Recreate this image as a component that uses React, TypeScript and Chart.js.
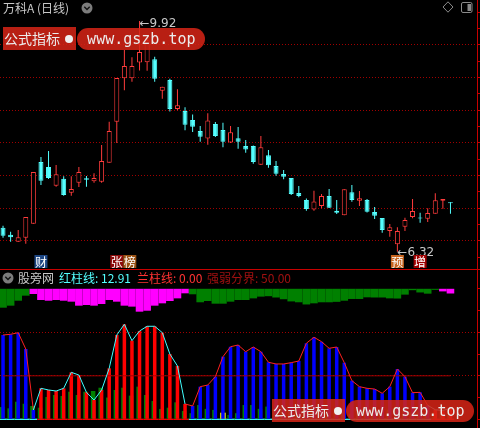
import React, { useEffect, useRef } from 'react';
import { Chart, registerables } from 'chart.js';

Chart.register(...registerables);

// ---------- price panel (daily candles, 万科A) ----------
const opens = [6.694, 6.585, 6.476, 6.538, 6.757, 7.720, 7.642, 7.350, 7.459, 7.241, 7.397, 7.465, 7.419, 7.412, 7.709, 8.349, 9.026, 9.026, 9.272, 9.276, 9.322, 8.832, 8.999, 8.547, 8.516, 8.375, 8.203, 8.086, 8.313, 8.219, 8.024, 8.090, 7.969, 7.969, 7.678, 7.824, 7.657, 7.532, 7.470, 7.236, 7.127, 6.978, 7.033, 7.189, 6.960, 6.888, 7.247, 7.116, 7.127, 6.939, 6.846, 6.643, 6.435, 6.710, 6.861, 6.854, 6.835, 6.913, 7.116, 7.090];
const highs = [6.726, 6.632, 6.659, 6.861, 7.564, 7.798, 7.891, 7.673, 7.497, 7.497, 7.642, 7.501, 7.543, 7.985, 8.349, 9.031, 9.467, 9.354, 9.920, 9.675, 9.363, 8.895, 9.020, 8.854, 8.573, 8.461, 8.281, 8.480, 8.344, 8.333, 8.281, 8.266, 8.063, 7.977, 8.125, 7.907, 7.735, 7.595, 7.470, 7.345, 7.150, 7.270, 7.220, 7.298, 7.127, 7.294, 7.361, 7.267, 7.142, 7.017, 6.846, 6.752, 6.701, 6.850, 7.142, 6.929, 6.997, 7.231, 7.142, 7.090];
const lows = [6.538, 6.476, 6.471, 6.445, 6.757, 7.361, 7.455, 7.334, 7.194, 7.194, 7.330, 7.334, 7.397, 7.397, 7.709, 8.016, 8.839, 8.973, 9.148, 9.144, 8.973, 8.707, 8.508, 8.526, 8.214, 8.188, 8.036, 7.990, 8.110, 7.949, 8.016, 7.927, 7.865, 7.693, 7.673, 7.631, 7.506, 7.450, 7.204, 7.169, 6.960, 6.960, 6.997, 7.002, 6.908, 6.888, 7.100, 7.033, 6.932, 6.830, 6.616, 6.554, 6.320, 6.643, 6.841, 6.772, 6.783, 6.913, 6.991, 6.913];
const closes = [6.570, 6.545, 6.545, 6.861, 7.564, 7.428, 7.470, 7.528, 7.205, 7.298, 7.564, 7.443, 7.470, 7.735, 8.203, 9.031, 9.218, 9.218, 9.436, 9.619, 9.020, 8.895, 8.547, 8.604, 8.302, 8.271, 8.114, 8.367, 8.125, 8.036, 8.183, 8.036, 7.915, 7.720, 7.949, 7.668, 7.537, 7.490, 7.220, 7.189, 6.986, 7.103, 7.189, 7.007, 6.929, 7.294, 7.127, 7.153, 6.944, 6.882, 6.659, 6.701, 6.643, 6.815, 6.955, 6.838, 6.924, 7.122, 7.142, 7.075];

const priceGridLines = [9.55, 9.04, 8.53, 8.02, 7.51, 7.0, 6.49];
const priceTickMarks = [10.06, 9.805, 9.55, 9.295, 9.04, 8.785, 8.53, 8.275, 8.02, 7.765, 7.51, 7.255, 7.0, 6.745, 6.49, 6.235];

const eventLabels = ['财', '张', '榜', '预', '增'];
const eventIndex = [5, 15, 15, 52, 55];
const eventColors = ['#1d4683', '#8c0a0a', '#9a5214', '#c8641e', '#a00000'];

// ---------- indicator panel (股旁网) ----------
const strength = [96.9, 97.7, 99.5, 80.8, 10.7, 35.6, 33.7, 32.5, 35.6, 54.0, 50.9, 31.0, 22.2, 33.7, 58.6, 96.9, 109.2, 90.4, 101.5, 106.9, 106.9, 99.6, 75.0, 61.3, 17.6, 15.3, 37.5, 39.4, 49.0, 72.0, 83.4, 85.4, 77.7, 83.1, 77.7, 65.5, 63.6, 63.6, 65.1, 67.0, 87.4, 94.3, 89.2, 81.6, 83.1, 65.1, 44.4, 37.5, 35.6, 34.8, 29.9, 37.5, 57.8, 49.0, 30.6, 31.0, 16.0, 11.0, 10.0, 12.91];
const strengthColor = ('BBBBB' + 'RRRRRRRRRR' + 'RRRRRRRRRR' + 'BBBBBBBBBB' + 'BBBBBBBBBB' + 'BBBBBBBBBB' + 'BB' + 'RRR').split('');
const greenSticks = [14.1, 12.6, 20.2, 17.9, 15.3, 13.3, 25.6, 27.9, 26.8, 31.7, 27.9, 31.7, 32.5, 36.3, 25, 33.7, 36.3, 27.2, 37.5, 27.9, 21, 11.9, 13.3, 19.5, 9.5, 7, 16.4, 12, 10.8, 0, 5, 7, 16.4, 16.4, 12, 14.6, 12, 15, 10, 8, 12, 14, 10, 9, 12, 8, 6, 10, 12, 9, 7, 11, 14, 10, 8, 9, 6, 8, 10, 12];
const yellowStickIndex = [29];
const yellowStickValue = [7.6];
const bandBottom = [128.3, 130.6, 136.3, 142.1, 144.0, 137.1, 136.3, 137.1, 136.3, 135.2, 130.6, 131.4, 130.6, 132.5, 137.1, 135.2, 130.6, 129.5, 123.7, 124.8, 130.6, 133.3, 136.0, 139.0, 144.8, 143.7, 134.5, 136.0, 132.9, 132.9, 135.2, 137.1, 137.1, 139.0, 141.0, 141.5, 140.0, 138.0, 135.5, 134.5, 132.0, 133.3, 134.5, 134.5, 135.0, 136.3, 138.3, 138.3, 140.2, 140.0, 140.0, 139.0, 138.8, 143.3, 148.4, 145.8, 144.4, 148.8, 147.0, 144.6];
const bandColor = ('GGGG' + 'MMMMMMMMMM' + 'MMMMMMMMMM' + 'M' + 'GGGGGGGGGG' + 'GGGGGGGGGG' + 'GGGGGGGGGG' + 'GGG' + 'MM').split('');
const bandTop = 150;
const threshold = 50;
const indicatorTicks = [0, 25, 50, 75, 100, 125, 150];
const indicatorGridLines = [50, 100];

// ---------- styles ----------
const UP = '#ff3c3c';
const DOWN = '#54ffff';
const GRID = '#a00000';
const AXIS = '#c80000';
const CJK = '"Noto Sans CJK SC", "DejaVu Sans", sans-serif';
const X_MIN = -0.4;
const X_MAX = 62.5;

const idx = opens.map((_, i) => i);
const isUp = (i: number) => closes[i] >= opens[i];
const near = (list: number[], v: any) => typeof v === 'number' && list.some((g) => Math.abs(g - v) < 1e-6);

const topMarks = {
  id: 'topMarks',
  afterDatasetsDraw(chart: any) {
    const { ctx, chartArea } = chart;
    const xs = chart.scales.x;
    const ys = chart.scales.y;
    const hi = highs.indexOf(Math.max(...highs));
    const lo = lows.indexOf(Math.min(...lows));
    ctx.save();
    ctx.fillStyle = '#c8c8c8';
    ctx.font = '12px "DejaVu Sans", sans-serif';
    ctx.textBaseline = 'middle';
    ctx.textAlign = 'left';
    ctx.fillText('←' + highs[hi].toFixed(2), xs.getPixelForValue(hi), ys.getPixelForValue(highs[hi]) + 3);
    ctx.fillText('←' + lows[lo].toFixed(2), xs.getPixelForValue(lo), ys.getPixelForValue(lows[lo]) + 1);
    ctx.font = '12px ' + CJK;
    ctx.textAlign = 'center';
    let prev = -1;
    let shift = 0;
    eventLabels.forEach((t, k) => {
      const i = eventIndex[k];
      shift = i === prev ? shift + 13 : 0;
      prev = i;
      const left = xs.getPixelForValue(i) - 6.5 + shift;
      const top = chartArea.bottom - 14;
      ctx.fillStyle = eventColors[k];
      ctx.fillRect(left, top, 13, 13);
      ctx.fillStyle = '#ffffff';
      ctx.fillText(t, left + 6.5, top + 7);
    });
    ctx.restore();
  },
};

function Chevron({ left, top }: { left: number; top: number }) {
  return (
    <svg width={12} height={12} style={{ position: 'absolute', left, top }}>
      <circle cx={6} cy={6} r={5.5} fill="#7c7c7c" />
      <path d="M3.3 4.8 L6 7.5 L8.7 4.8" stroke="#111" strokeWidth={1.4} fill="none" />
    </svg>
  );
}

function Watermark({ left, top }: { left: number; top: number }) {
  const red = 'rgba(214,36,22,0.86)';
  return (
    <div style={{ position: 'absolute', left, top, width: 204, height: 23, pointerEvents: 'none' }}>
      <div style={{ position: 'absolute', left: 0, top: 0, width: 73, height: 23, background: red, color: '#ececec', font: '14px ' + CJK, lineHeight: '23px', paddingLeft: 1, boxSizing: 'border-box', whiteSpace: 'nowrap' }}>公式指标</div>
      <div style={{ position: 'absolute', left: 61.6, top: 7.5, width: 8, height: 8, borderRadius: 4, background: '#f0f0f0' }} />
      <div style={{ position: 'absolute', left: 74.3, top: 0.5, width: 128, height: 22, borderRadius: 11, background: red, color: '#ececec', font: '15px "DejaVu Sans Mono", monospace', lineHeight: '22px', textAlign: 'center', whiteSpace: 'nowrap' }}>www.gszb.top</div>
    </div>
  );
}

export default function App() {
  const topRef = useRef<HTMLCanvasElement>(null);
  const botRef = useRef<HTMLCanvasElement>(null);

  useEffect(() => {
    const top = new Chart(topRef.current as HTMLCanvasElement, {
      type: 'bar',
      data: {
        datasets: [
          {
            data: idx.map((i) => ({ x: i, y: [opens[i], closes[i]] })) as any,
            backgroundColor: idx.map((i) => (isUp(i) ? '#000000' : DOWN)),
            borderColor: idx.map((i) => (isUp(i) ? UP : DOWN)),
            borderWidth: 1,
            borderSkipped: false,
            barThickness: 5,
            grouped: false,
            inflateAmount: 0,
            order: 0,
          } as any,
          {
            data: idx.map((i) => ({ x: i, y: [lows[i], highs[i]] })) as any,
            backgroundColor: idx.map((i) => (isUp(i) ? UP : DOWN)),
            borderWidth: 0,
            barThickness: 1,
            grouped: false,
            inflateAmount: 0,
            order: 1,
          } as any,
        ],
      },
      options: {
        animation: false,
        responsive: false,
        devicePixelRatio: 1,
        events: [],
        layout: { padding: 0 },
        plugins: { legend: { display: false }, tooltip: { enabled: false } },
        scales: {
          x: { type: 'linear', min: X_MIN, max: X_MAX, display: false, offset: false },
          y: {
            position: 'right',
            min: 6.05,
            max: 10.248,
            afterBuildTicks: (s: any) => { s.ticks = priceTickMarks.map((v) => ({ value: v })); },
            ticks: { display: false },
            grid: {
              color: (c: any) => (near(priceGridLines, c.tick && c.tick.value) ? GRID : 'rgba(0,0,0,0)'),
              tickColor: AXIS,
              tickLength: 3,
              drawTicks: true,
            },
            border: { display: true, color: AXIS, width: 1, dash: [1, 2] },
          },
        },
      } as any,
      plugins: [topMarks],
    });

    const bottom = new Chart(botRef.current as HTMLCanvasElement, {
      type: 'bar',
      data: {
        datasets: [
          {
            type: 'line',
            data: idx.map((i) => ({ x: i, y: strength[i] })),
            borderWidth: 1,
            pointRadius: 0,
            tension: 0,
            segment: { borderColor: (c: any) => (strengthColor[c.p1DataIndex] === 'R' ? '#40ffff' : '#ff2020') },
            borderColor: '#ff2020',
            order: 0,
          } as any,
          {
            type: 'line',
            data: idx.map((i) => ({ x: i, y: threshold })),
            borderColor: '#a00000',
            borderWidth: 1,
            pointRadius: 0,
            order: 1,
          } as any,
          {
            data: idx.map((i) => ({ x: i, y: strength[i] })),
            backgroundColor: idx.map((i) => (strengthColor[i] === 'R' ? '#ff0000' : '#0000ff')),
            barThickness: 3.5,
            grouped: false,
            inflateAmount: 0,
            order: 2,
          } as any,
          {
            data: yellowStickIndex.map((i, k) => ({ x: i, y: yellowStickValue[k] })),
            backgroundColor: '#ffff00',
            barThickness: 5.5,
            grouped: false,
            inflateAmount: 0,
            order: 3,
          } as any,
          {
            data: idx.map((i) => ({ x: i - 0.12, y: greenSticks[i] })),
            backgroundColor: '#008000',
            barThickness: 4.5,
            grouped: false,
            inflateAmount: 0,
            order: 4,
          } as any,
          {
            data: idx.map((i) => ({ x: i, y: [-0.75, 0.75] })),
            backgroundColor: idx.map((i) => (strengthColor[i] === 'R' ? '#ff0000' : '#40ffff')),
            barThickness: 7.6,
            grouped: false,
            inflateAmount: 0,
            order: 5,
          } as any,
          {
            data: idx.map((i) => ({ x: i, y: [bandBottom[i], bandTop] })),
            backgroundColor: idx.map((i) => (bandColor[i] === 'M' ? '#ff00ff' : '#008000')),
            barThickness: 7.6,
            grouped: false,
            inflateAmount: 0,
            order: 6,
          } as any,
        ],
      },
      options: {
        animation: false,
        responsive: false,
        devicePixelRatio: 1,
        events: [],
        layout: { padding: 0 },
        plugins: { legend: { display: false }, tooltip: { enabled: false } },
        scales: {
          x: { type: 'linear', min: X_MIN, max: X_MAX, display: false, offset: false },
          y: {
            position: 'right',
            min: -10,
            max: 171.6,
            afterBuildTicks: (s: any) => { s.ticks = indicatorTicks.map((v) => ({ value: v })); },
            ticks: { display: false },
            grid: {
              color: (c: any) => (near(indicatorGridLines, c.tick && c.tick.value) ? GRID : 'rgba(0,0,0,0)'),
              tickColor: AXIS,
              tickLength: 3,
              drawTicks: true,
            },
            border: { display: true, color: AXIS, width: 1, dash: [1, 2] },
          },
        },
      } as any,
    });

    return () => {
      top.destroy();
      bottom.destroy();
    };
  }, []);

  const last = strength.length - 1;
  const redValue = strengthColor[last] === 'R' ? strength[last] : 0;
  const blueValue = strengthColor[last] === 'B' ? strength[last] : 0;
  const txt = { position: 'absolute' as const, font: '12px ' + CJK, lineHeight: '16px', whiteSpace: 'pre' as const };

  return (
    <div style={{ position: 'fixed', left: 0, top: 0, width: 480, height: 428, background: '#000', overflow: 'hidden' }}>
      <canvas ref={topRef} width={480} height={269} style={{ position: 'absolute', left: 0, top: 0 }} />
      <div style={{ position: 'absolute', left: 0, top: 269, width: 480, height: 1, background: AXIS }} />
      <canvas ref={botRef} width={480} height={158} style={{ position: 'absolute', left: 0, top: 270 }} />

      <div style={{ ...txt, left: 3, top: 0, color: '#c8c8c8' }}>万科A (日线)</div>
      <Chevron left={81} top={2} />
      <svg width={12} height={12} style={{ position: 'absolute', left: 442, top: 1 }}>
        <path d="M6 0.8 L11 6 L6 11.2 L1 6 Z" stroke="#8a8a8a" strokeWidth={1} fill="none" />
      </svg>
      <svg width={13} height={12} style={{ position: 'absolute', left: 460, top: 1 }}>
        <rect x={1.5} y={1.5} width={10.5} height={10} rx={1.5} stroke="#8a8a8a" strokeWidth={1} fill="none" />
        <rect x={7.5} y={3} width={3.5} height={7} fill="#8a8a8a" />
      </svg>

      <Chevron left={2} top={272} />
      <div style={{ ...txt, left: 18, top: 270, color: '#c8c8c8' }}>股旁网</div>
      <div style={{ ...txt, left: 59, top: 270, color: '#54ffff' }}>{'红柱线: ' + redValue.toFixed(2)}</div>
      <div style={{ ...txt, left: 137, top: 270, color: '#ff3232' }}>{'兰柱线: ' + blueValue.toFixed(2)}</div>
      <div style={{ ...txt, left: 207, top: 270, color: '#a01010' }}>{'强弱分界: ' + threshold.toFixed(2)}</div>

      <Watermark left={3} top={27} />
      <Watermark left={272} top={399} />
    </div>
  );
}
